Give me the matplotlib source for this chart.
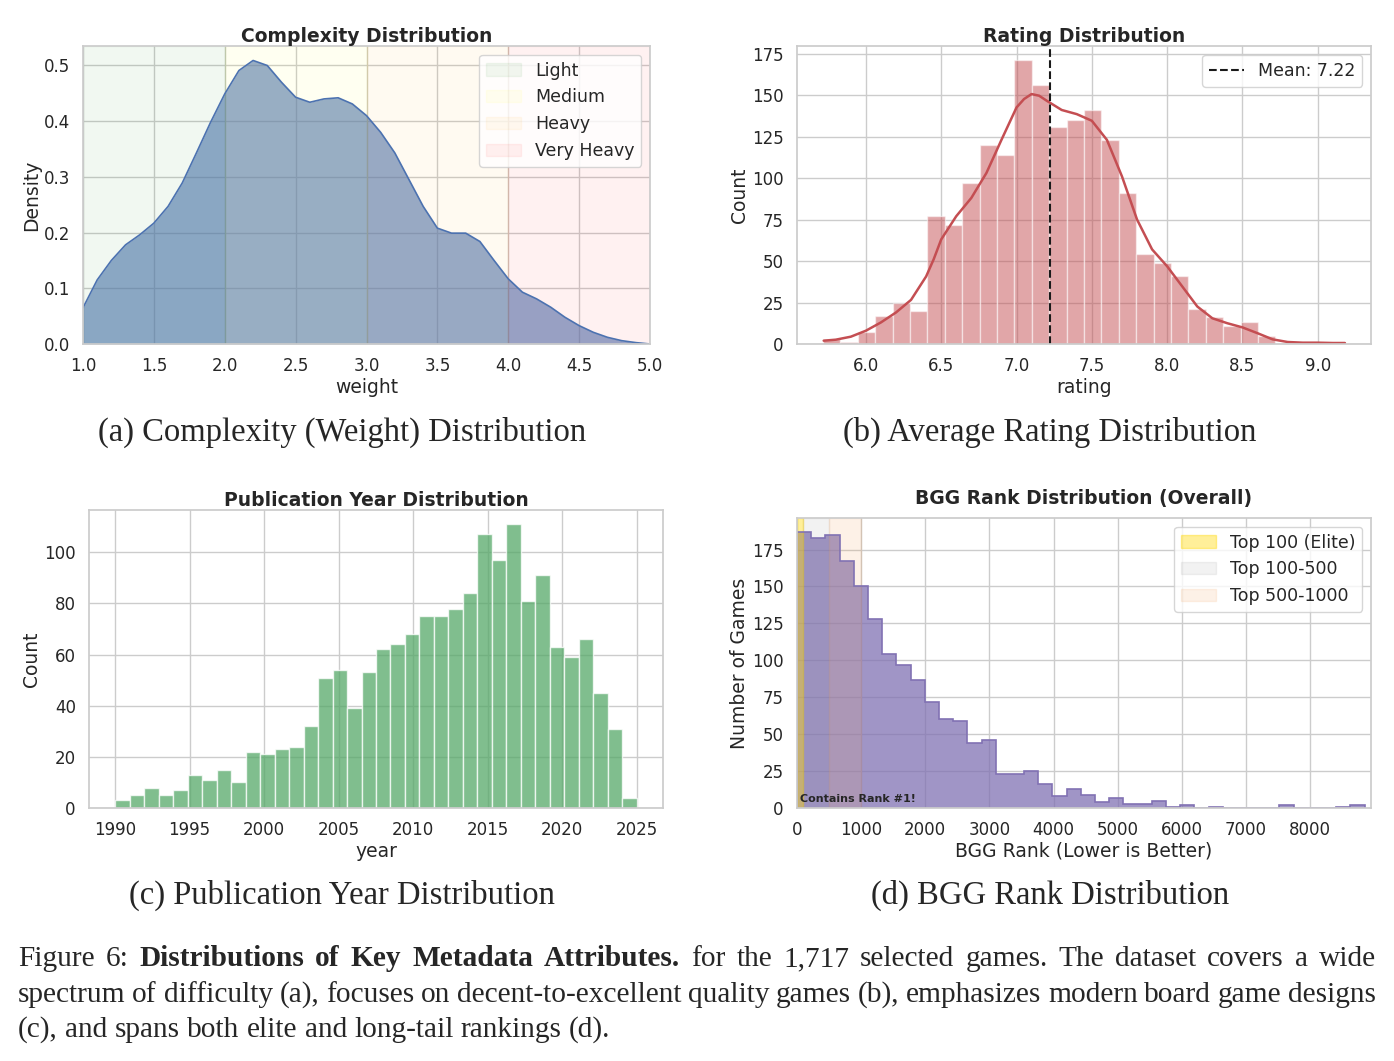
import matplotlib
matplotlib.use("Agg")

import numpy as np
import matplotlib.pyplot as plt
import seaborn as sns

# ---- (a) complexity: KDE curve ----
weight_x = [1.0, 1.1, 1.2, 1.3, 1.4, 1.5, 1.6, 1.7, 1.8, 1.9,
            2.0, 2.1, 2.2, 2.3, 2.4, 2.5, 2.6, 2.7, 2.8, 2.9,
            3.0, 3.1, 3.2, 3.3, 3.4, 3.5, 3.6, 3.7, 3.8, 3.9,
            4.0, 4.1, 4.2, 4.3, 4.4, 4.5, 4.6, 4.7, 4.8, 4.9, 5.0]
weight_density = [0.065, 0.115, 0.150, 0.178, 0.196, 0.217, 0.247, 0.289, 0.343, 0.398,
                  0.449, 0.491, 0.509, 0.500, 0.470, 0.443, 0.434, 0.440, 0.442, 0.431,
                  0.410, 0.380, 0.343, 0.295, 0.247, 0.208, 0.199, 0.199, 0.184, 0.150,
                  0.117, 0.093, 0.081, 0.066, 0.048, 0.033, 0.021, 0.012, 0.006, 0.0025, 0.0]
weight_bands = ["Light", "Medium", "Heavy", "Very Heavy"]
weight_band_edges = [1, 2, 3, 4, 5]
weight_band_colors = ["green", "yellow", "orange", "red"]

# ---- (b) rating histogram (30 bins) + kde ----
rating_min, rating_max = 5.716, 9.18
rating_counts = [3, 1, 7, 17, 25, 20, 77, 72, 97, 120, 114, 171, 156, 131, 135,
                 141, 123, 91, 54, 49, 41, 21, 16, 11, 13, 5, 0, 0, 0, 1]
rating_kde_x = [5.72, 5.8, 5.9, 6.0, 6.1, 6.2, 6.3, 6.4, 6.45, 6.5, 6.6, 6.7, 6.8, 6.9,
                7.0, 7.05, 7.1, 7.15, 7.2, 7.3, 7.4, 7.5, 7.6, 7.7, 7.8, 7.9, 8.0, 8.1, 8.2,
                8.3, 8.4, 8.5, 8.6, 8.7, 8.8, 8.9, 9.0, 9.1, 9.18]
rating_kde_y = [2.0, 2.6, 4.4, 8.0, 13.0, 19.0, 26.6, 40.7, 51.0, 63.0, 77.0, 88.0, 103.0, 123.0,
                142.5, 147.6, 150.6, 149.6, 146.6, 141.0, 138.5, 134.5, 123.0, 101.0, 75.0, 57.0,
                46.8, 34.7, 22.6, 15.5, 12.5, 10.0, 6.5, 2.8, 1.2, 0.8, 0.8, 0.6, 0.6]
rating_mean = 7.22

# ---- (c) publication year (36 bins, 1990-2025) ----
year_min, year_max = 1990, 2025
year_counts = [3, 5, 8, 5, 7, 13, 11, 15, 10, 22, 21, 23, 24, 32, 51, 54, 39, 53,
               62, 64, 68, 75, 75, 78, 84, 107, 97, 111, 81, 91, 63, 59, 66, 45, 31, 4]

# ---- (d) BGG rank (40 bins) ----
rank_min, rank_max = 1, 8850
rank_counts = [187, 183, 185, 167, 150, 128, 104, 97, 87, 72,
               60, 59, 44, 46, 23, 23, 25, 16, 8, 13,
               9, 4, 7, 3, 3, 5, 1, 2, 0, 1,
               0, 0, 0, 0, 2, 0, 0, 0, 1, 2]
rank_bands = ["Top 100 (Elite)", "Top 100-500", "Top 500-1000"]
rank_band_edges = [0, 100, 500, 1000]
rank_band_colors = ["gold", "gray", "sandybrown"]
rank_band_alpha = [0.4, 0.1, 0.15]

sns.set_theme(style="whitegrid")
plt.rcParams["font.family"] = ["DejaVu Sans"]
plt.rcParams["xtick.labelsize"] = 12
plt.rcParams["ytick.labelsize"] = 12
plt.rcParams["axes.labelsize"] = 13.5
plt.rcParams["axes.labelpad"] = 2
plt.rcParams["axes.titlesize"] = 13.5
plt.rcParams["axes.titleweight"] = "bold"
plt.rcParams["axes.titlepad"] = 3
plt.rcParams["legend.fontsize"] = 12.5

W, H = 1394, 1061
fig = plt.figure(figsize=(W / 100, H / 100), dpi=100)


def box(l, r, t, b):
    return [l / W, 1 - b / H, (r - l) / W, (b - t) / H]


def bars(ax, lo, hi, counts, color, alpha):
    edges = np.linspace(lo, hi, len(counts) + 1)
    ax.hist(edges[:-1], bins=edges, weights=counts, color=color, alpha=alpha,
            edgecolor="white", linewidth=1)
    return edges


# (a)
ax = fig.add_axes(box(83, 650, 46, 344))
ax.fill_between(weight_x, weight_density, color="#4C72B0", alpha=0.6, lw=0)
ax.plot(weight_x, weight_density, color="#4C72B0", lw=1.2)
for i, name in enumerate(weight_bands):
    ax.axvspan(weight_band_edges[i], weight_band_edges[i + 1],
               color=weight_band_colors[i], alpha=0.055, label=name)
ax.set_xlim(1, 5)
ax.set_ylim(0, 0.535)
ax.set_xticks(np.arange(1, 5.01, 0.5))
ax.set_title("Complexity Distribution")
ax.set_xlabel("weight")
ax.set_ylabel("Density")
ax.legend(loc="upper right")

# (b)
ax = fig.add_axes(box(797, 1371, 46, 344))
bars(ax, rating_min, rating_max, rating_counts, "#C44E52", 0.5)
ax.plot(rating_kde_x, rating_kde_y, color="#C44E52", lw=1.8)
ax.axvline(rating_mean, color="k", ls="--", lw=1.5, label=f"Mean: {rating_mean:.2f}")
ax.set_yticks(np.arange(0, 176, 25))
ax.set_title("Rating Distribution")
ax.set_xlabel("rating")
ax.set_ylabel("Count")
ax.legend(loc="upper right")

# (c)
ax = fig.add_axes(box(89, 663, 510, 808))
bars(ax, year_min, year_max, year_counts, "#55A868", 0.75)
ax.set_xticks(np.arange(1990, 2026, 5))
ax.set_title("Publication Year Distribution")
ax.set_xlabel("year")
ax.set_ylabel("Count")

# (d)
ax = fig.add_axes(box(797, 1371, 518, 808))
edges = np.linspace(rank_min, rank_max, len(rank_counts) + 1)
ax.hist(edges[:-1], bins=edges, weights=rank_counts, histtype="stepfilled",
        color="#8172B3", alpha=0.75, lw=0)
ax.hist(edges[:-1], bins=edges, weights=rank_counts, histtype="step",
        color="#8172B3", lw=1.2)
for i, name in enumerate(rank_bands):
    ax.axvspan(rank_band_edges[i], rank_band_edges[i + 1], color=rank_band_colors[i],
               alpha=rank_band_alpha[i], label=name)
ax.text(50, 3, "Contains Rank #1!", fontsize=8, fontweight="bold", va="bottom")
ax.set_xlim(0, 8950)
ax.set_xticks(np.arange(0, 8001, 1000))
ax.set_yticks(np.arange(0, 176, 25))
ax.set_title("BGG Rank Distribution (Overall)", pad=10)
ax.set_xlabel("BGG Rank (Lower is Better)")
ax.set_ylabel("Number of Games")
ax.legend(loc="upper right")

# sub-captions
serif = "Liberation Serif"
subcaps = [("(a) Complexity (Weight) Distribution", 342, 441),
           ("(b) Average Rating Distribution", 1050, 441),
           ("(c) Publication Year Distribution", 342, 904),
           ("(d) BGG Rank Distribution", 1050, 904)]
for s, x, y in subcaps:
    fig.text(x / W, 1 - y / H, s, family=serif, fontsize=23.5, ha="center", va="baseline")

# figure caption, justified word by word
cap_lines = [
    [("Figure", 0), ("6:", 0), ("Distributions", 1), ("of", 1), ("Key", 1), ("Metadata", 1),
     ("Attributes.", 1), ("for", 0), ("the", 0), ("1,717", 0), ("selected", 0), ("games.", 0),
     ("The", 0), ("dataset", 0), ("covers", 0), ("a", 0), ("wide", 0)],
    [(w, 0) for w in "spectrum of difficulty (a), focuses on decent-to-excellent quality games (b), "
                     "emphasizes modern board game designs".split()],
    [(w, 0) for w in "(c), and spans both elite and long-tail rankings (d).".split()],
]
cap_base = [966, 1002, 1037]
cap_size = 21.2
renderer = fig.canvas.get_renderer()
for li, words in enumerate(cap_lines):
    texts = [fig.text(0, 1 - cap_base[li] / H, w, family=serif, fontsize=cap_size,
                      fontweight="bold" if b else "normal", va="baseline") for w, b in words]
    widths = [t.get_window_extent(renderer).width for t in texts]
    if li < 2:
        gap = (1376 - 18 - sum(widths)) / (len(texts) - 1)
    else:
        gap = cap_size * 100 / 72 * 0.25
    x = 18
    for t, w in zip(texts, widths):
        t.set_x(x / W)
        x += w + gap

fig.savefig("out.png", dpi=100)
